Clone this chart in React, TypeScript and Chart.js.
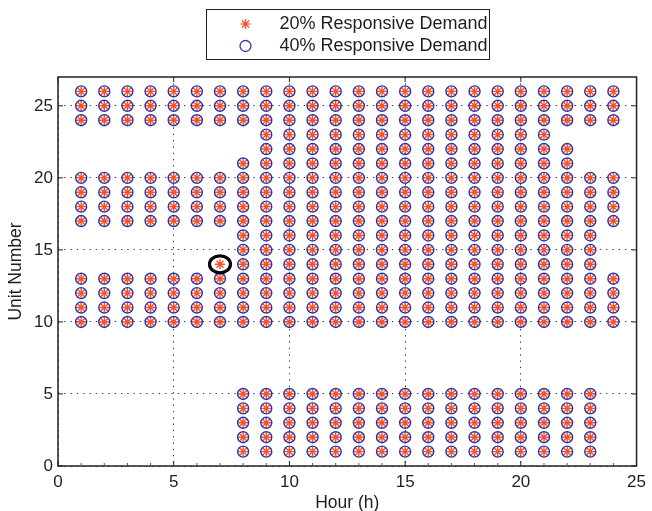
import React, { useEffect, useRef } from "react";
import { Chart, registerables } from "chart.js";

Chart.register(...registerables);

// ---- data ----
const hours = [1, 2, 3, 4, 5, 6, 7, 8, 9, 10, 11, 12, 13, 14, 15, 16, 17, 18, 19, 20, 21, 22, 23, 24];

// committed units per hour, 20% responsive demand
const units20: number[][] = [
  [10, 11, 12, 13, 17, 18, 19, 20, 24, 25, 26],
  [10, 11, 12, 13, 17, 18, 19, 20, 24, 25, 26],
  [10, 11, 12, 13, 17, 18, 19, 20, 24, 25, 26],
  [10, 11, 12, 13, 17, 18, 19, 20, 24, 25, 26],
  [10, 11, 12, 13, 17, 18, 19, 20, 24, 25, 26],
  [10, 11, 12, 13, 17, 18, 19, 20, 24, 25, 26],
  [10, 11, 12, 13, 14, 17, 18, 19, 20, 24, 25, 26],
  [1, 2, 3, 4, 5, 10, 11, 12, 13, 14, 15, 16, 17, 18, 19, 20, 21, 24, 25, 26],
  [1, 2, 3, 4, 5, 10, 11, 12, 13, 14, 15, 16, 17, 18, 19, 20, 21, 22, 23, 24, 25, 26],
  [1, 2, 3, 4, 5, 10, 11, 12, 13, 14, 15, 16, 17, 18, 19, 20, 21, 22, 23, 24, 25, 26],
  [1, 2, 3, 4, 5, 10, 11, 12, 13, 14, 15, 16, 17, 18, 19, 20, 21, 22, 23, 24, 25, 26],
  [1, 2, 3, 4, 5, 10, 11, 12, 13, 14, 15, 16, 17, 18, 19, 20, 21, 22, 23, 24, 25, 26],
  [1, 2, 3, 4, 5, 10, 11, 12, 13, 14, 15, 16, 17, 18, 19, 20, 21, 22, 23, 24, 25, 26],
  [1, 2, 3, 4, 5, 10, 11, 12, 13, 14, 15, 16, 17, 18, 19, 20, 21, 22, 23, 24, 25, 26],
  [1, 2, 3, 4, 5, 10, 11, 12, 13, 14, 15, 16, 17, 18, 19, 20, 21, 22, 23, 24, 25, 26],
  [1, 2, 3, 4, 5, 10, 11, 12, 13, 14, 15, 16, 17, 18, 19, 20, 21, 22, 23, 24, 25, 26],
  [1, 2, 3, 4, 5, 10, 11, 12, 13, 14, 15, 16, 17, 18, 19, 20, 21, 22, 23, 24, 25, 26],
  [1, 2, 3, 4, 5, 10, 11, 12, 13, 14, 15, 16, 17, 18, 19, 20, 21, 22, 23, 24, 25, 26],
  [1, 2, 3, 4, 5, 10, 11, 12, 13, 14, 15, 16, 17, 18, 19, 20, 21, 22, 23, 24, 25, 26],
  [1, 2, 3, 4, 5, 10, 11, 12, 13, 14, 15, 16, 17, 18, 19, 20, 21, 22, 23, 24, 25, 26],
  [1, 2, 3, 4, 5, 10, 11, 12, 13, 14, 15, 16, 17, 18, 19, 20, 21, 22, 23, 24, 25, 26],
  [1, 2, 3, 4, 5, 10, 11, 12, 13, 14, 15, 16, 17, 18, 19, 20, 21, 22, 24, 25, 26],
  [1, 2, 3, 4, 5, 10, 11, 12, 13, 14, 15, 16, 17, 18, 19, 20, 24, 25, 26],
  [10, 11, 12, 13, 17, 18, 19, 20, 24, 25, 26],
];

// committed units per hour, 40% responsive demand (unit 14 stays off at hour 7)
const units40: number[][] = [
  [10, 11, 12, 13, 17, 18, 19, 20, 24, 25, 26],
  [10, 11, 12, 13, 17, 18, 19, 20, 24, 25, 26],
  [10, 11, 12, 13, 17, 18, 19, 20, 24, 25, 26],
  [10, 11, 12, 13, 17, 18, 19, 20, 24, 25, 26],
  [10, 11, 12, 13, 17, 18, 19, 20, 24, 25, 26],
  [10, 11, 12, 13, 17, 18, 19, 20, 24, 25, 26],
  [10, 11, 12, 13, 17, 18, 19, 20, 24, 25, 26],
  [1, 2, 3, 4, 5, 10, 11, 12, 13, 14, 15, 16, 17, 18, 19, 20, 21, 24, 25, 26],
  [1, 2, 3, 4, 5, 10, 11, 12, 13, 14, 15, 16, 17, 18, 19, 20, 21, 22, 23, 24, 25, 26],
  [1, 2, 3, 4, 5, 10, 11, 12, 13, 14, 15, 16, 17, 18, 19, 20, 21, 22, 23, 24, 25, 26],
  [1, 2, 3, 4, 5, 10, 11, 12, 13, 14, 15, 16, 17, 18, 19, 20, 21, 22, 23, 24, 25, 26],
  [1, 2, 3, 4, 5, 10, 11, 12, 13, 14, 15, 16, 17, 18, 19, 20, 21, 22, 23, 24, 25, 26],
  [1, 2, 3, 4, 5, 10, 11, 12, 13, 14, 15, 16, 17, 18, 19, 20, 21, 22, 23, 24, 25, 26],
  [1, 2, 3, 4, 5, 10, 11, 12, 13, 14, 15, 16, 17, 18, 19, 20, 21, 22, 23, 24, 25, 26],
  [1, 2, 3, 4, 5, 10, 11, 12, 13, 14, 15, 16, 17, 18, 19, 20, 21, 22, 23, 24, 25, 26],
  [1, 2, 3, 4, 5, 10, 11, 12, 13, 14, 15, 16, 17, 18, 19, 20, 21, 22, 23, 24, 25, 26],
  [1, 2, 3, 4, 5, 10, 11, 12, 13, 14, 15, 16, 17, 18, 19, 20, 21, 22, 23, 24, 25, 26],
  [1, 2, 3, 4, 5, 10, 11, 12, 13, 14, 15, 16, 17, 18, 19, 20, 21, 22, 23, 24, 25, 26],
  [1, 2, 3, 4, 5, 10, 11, 12, 13, 14, 15, 16, 17, 18, 19, 20, 21, 22, 23, 24, 25, 26],
  [1, 2, 3, 4, 5, 10, 11, 12, 13, 14, 15, 16, 17, 18, 19, 20, 21, 22, 23, 24, 25, 26],
  [1, 2, 3, 4, 5, 10, 11, 12, 13, 14, 15, 16, 17, 18, 19, 20, 21, 22, 23, 24, 25, 26],
  [1, 2, 3, 4, 5, 10, 11, 12, 13, 14, 15, 16, 17, 18, 19, 20, 21, 22, 24, 25, 26],
  [1, 2, 3, 4, 5, 10, 11, 12, 13, 14, 15, 16, 17, 18, 19, 20, 24, 25, 26],
  [10, 11, 12, 13, 17, 18, 19, 20, 24, 25, 26],
];

const seriesLabels = ["20% Responsive Demand", "40% Responsive Demand"];
const xTicks = [0, 5, 10, 15, 20, 25];
const yTicks = [0, 5, 10, 15, 20, 25];
const xLabel = "Hour (h)";
const yLabel = "Unit Number";
const highlightHour = 7;
const highlightUnit = 14;

const STAR_COLOR = "#F4522B";
const CIRCLE_COLOR = "#2F33A3";
const TEXT_COLOR = "#1e1e1e";
const FONT = '"Liberation Sans", Arial, Helvetica, sans-serif';

const toPoints = (lists: number[][]) =>
  hours.flatMap((h, i) => lists[i].map((u) => ({ x: h, y: u })));

const decorPlugin = {
  id: "decor",
  afterDatasetsDraw(chart: any) {
    const { ctx, chartArea: a, scales } = chart;
    const xs = scales.x;
    const ys = scales.y;
    ctx.save();
    // highlight ellipse
    ctx.beginPath();
    ctx.ellipse(
      xs.getPixelForValue(highlightHour),
      ys.getPixelForValue(highlightUnit),
      10.5,
      8.5,
      0,
      0,
      Math.PI * 2
    );
    ctx.lineWidth = 3.2;
    ctx.strokeStyle = "#000";
    ctx.stroke();

    // axes box
    ctx.lineWidth = 1.5;
    ctx.strokeStyle = "#222";
    ctx.strokeRect(a.left, a.top, a.right - a.left, a.bottom - a.top);

    const line = (x1: number, y1: number, x2: number, y2: number) => {
      ctx.beginPath();
      ctx.moveTo(x1, y1);
      ctx.lineTo(x2, y2);
      ctx.stroke();
    };
    ctx.lineWidth = 1;
    for (const t of xTicks) {
      const px = xs.getPixelForValue(t);
      line(px, a.bottom, px, a.bottom - 5);
      line(px, a.top, px, a.top + 5);
    }
    for (const t of yTicks) {
      const py = ys.getPixelForValue(t);
      line(a.left, py, a.left + 5, py);
      line(a.right, py, a.right - 5, py);
    }
    ctx.strokeStyle = "#555";
    for (let v = xs.min + 1; v < xs.max; v++) {
      if (v % 5 === 0) continue;
      const px = xs.getPixelForValue(v);
      line(px, a.bottom, px, a.bottom - 3);
    }

    // x-axis title (drawn here for exact placement)
    ctx.fillStyle = TEXT_COLOR;
    ctx.font = `17.5px ${FONT}`;
    ctx.textAlign = "center";
    ctx.textBaseline = "middle";
    ctx.fillText(xLabel, (a.left + a.right) / 2, 503);
    ctx.restore();
  },
  afterDraw(chart: any) {
    const { ctx, chartArea: a } = chart;
    ctx.save();
    const w = 283;
    const h = 50;
    const left = Math.round((a.left + a.right) / 2 - w / 2) + 0.5;
    const top = 9.5;
    ctx.fillStyle = "#fff";
    ctx.fillRect(left, top, w, h);
    ctx.strokeStyle = "#222";
    ctx.lineWidth = 1;
    ctx.strokeRect(left, top, w, h);
    const rowY = [top + 14.5, top + 36.5];
    const mx = left + 39;
    // star marker
    ctx.strokeStyle = STAR_COLOR;
    ctx.lineWidth = 1.3;
    const r = 5;
    for (let k = 0; k < 4; k++) {
      const ang = (k * Math.PI) / 4;
      ctx.beginPath();
      ctx.moveTo(mx - Math.cos(ang) * r, rowY[0] - Math.sin(ang) * r);
      ctx.lineTo(mx + Math.cos(ang) * r, rowY[0] + Math.sin(ang) * r);
      ctx.stroke();
    }
    // circle marker
    ctx.strokeStyle = CIRCLE_COLOR;
    ctx.lineWidth = 1.3;
    ctx.beginPath();
    ctx.arc(mx, rowY[1], 5.5, 0, Math.PI * 2);
    ctx.stroke();
    // texts
    ctx.fillStyle = TEXT_COLOR;
    ctx.font = `18px ${FONT}`;
    ctx.textBaseline = "middle";
    ctx.textAlign = "left";
    ctx.fillText(seriesLabels[0], left + 73, rowY[0]);
    ctx.fillText(seriesLabels[1], left + 73, rowY[1]);
    ctx.restore();
  },
};

export default function App() {
  const canvasRef = useRef<HTMLCanvasElement | null>(null);

  useEffect(() => {
    document.body.style.margin = "0";
    const canvas = canvasRef.current;
    if (!canvas) return;
    const chart = new Chart(canvas, {
      type: "scatter",
      data: {
        datasets: [
          {
            label: seriesLabels[1],
            data: toPoints(units40),
            pointStyle: "circle",
            pointRadius: 5.5,
            pointHoverRadius: 5.5,
            borderWidth: 1.4,
            borderColor: CIRCLE_COLOR,
            backgroundColor: "rgba(0,0,0,0)",
            order: 0,
          },
          {
            label: seriesLabels[0],
            data: toPoints(units20),
            pointStyle: "star",
            pointRadius: 5,
            pointHoverRadius: 5,
            borderWidth: 1.4,
            borderColor: STAR_COLOR,
            backgroundColor: STAR_COLOR,
            order: 1,
          },
        ],
      },
      options: {
        responsive: false,
        animation: false,
        devicePixelRatio: 1,
        layout: { padding: { left: 0, top: 77, right: 10, bottom: 0 } },
        plugins: {
          legend: { display: false },
          tooltip: { enabled: false },
        },
        events: [],
        scales: {
          x: {
            type: "linear",
            min: 0,
            max: 25,
            afterFit: (s: any) => {
              s.height = 45;
            },
            ticks: {
              stepSize: 5,
              includeBounds: false,
              padding: 6,
              color: TEXT_COLOR,
              font: { family: FONT, size: 17 },
            },
            grid: { color: "#333", lineWidth: 1, drawTicks: false },
            border: { display: false, dash: [1.3, 5] },
            title: { display: false },
          },
          y: {
            type: "linear",
            min: 0,
            max: 27,
            afterFit: (s: any) => {
              s.width = 58;
            },
            ticks: {
              stepSize: 5,
              includeBounds: false,
              padding: 5,
              color: TEXT_COLOR,
              font: { family: FONT, size: 17 },
            },
            grid: { color: "#333", lineWidth: 1, drawTicks: false },
            border: { display: false, dash: [1.3, 5] },
            title: {
              display: true,
              text: yLabel,
              color: TEXT_COLOR,
              font: { family: FONT, size: 17.5 },
              padding: { top: 6, bottom: 6 },
            },
          },
        },
      },
      plugins: [decorPlugin],
    });
    return () => chart.destroy();
  }, []);

  return (
    <div style={{ position: "relative", width: 652, height: 511 }}>
      <canvas
        ref={canvasRef}
        width={652}
        height={511}
        style={{ display: "block", position: "absolute", left: 0, top: 0 }}
      />
    </div>
  );
}
